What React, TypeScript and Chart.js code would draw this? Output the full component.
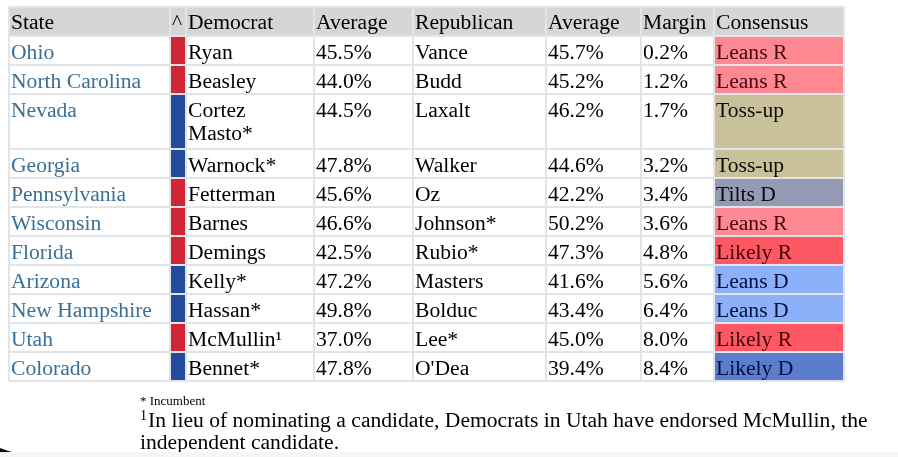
import React, { useEffect, useRef } from 'react';
import { Chart, registerables } from 'chart.js';

Chart.register(...registerables);

// ---------- data ----------
const headers = ['State', '^', 'Democrat', 'Average', 'Republican', 'Average', 'Margin', 'Consensus'];
const states = ['Ohio', 'North Carolina', 'Nevada', 'Georgia', 'Pennsylvania', 'Wisconsin', 'Florida', 'Arizona', 'New Hampshire', 'Utah', 'Colorado'];
const seatHolders = ['R', 'R', 'D', 'D', 'R', 'R', 'R', 'D', 'D', 'R', 'D'];
const democrats = ['Ryan', 'Beasley', 'Cortez Masto*', 'Warnock*', 'Fetterman', 'Barnes', 'Demings', 'Kelly*', 'Hassan*', 'McMullin\u00b9', 'Bennet*'];
const demAverages = [45.5, 44.0, 44.5, 47.8, 45.6, 46.6, 42.5, 47.2, 49.8, 37.0, 47.8];
const republicans = ['Vance', 'Budd', 'Laxalt', 'Walker', 'Oz', 'Johnson*', 'Rubio*', 'Masters', 'Bolduc', 'Lee*', "O'Dea"];
const repAverages = [45.7, 45.2, 46.2, 44.6, 42.2, 50.2, 47.3, 41.6, 43.4, 45.0, 39.4];
const margins = [0.2, 1.2, 1.7, 3.2, 3.4, 3.6, 4.8, 5.6, 6.4, 8.0, 8.4];
const consensus = ['Leans R', 'Leans R', 'Toss-up', 'Toss-up', 'Tilts D', 'Leans R', 'Likely R', 'Leans D', 'Leans D', 'Likely R', 'Likely D'];
const footnoteIncumbent = '* Incumbent';
const footnoteMark = '1';
const footnoteUtah = 'In lieu of nominating a candidate, Democrats in Utah have endorsed McMullin, the independent candidate.';

// ---------- styles / layout ----------
const COL_WIDTHS = [161, 16, 128, 99, 133, 95, 73, 130];
const HEADER_H = 29;
const ROW_H = 29;
const EXTRA_LINE_H = 26;
const FONT = '21.6px "Liberation Serif", "Times New Roman", serif';
const PARTY_COLORS: Record<string, string> = { R: '#cf2634', D: '#244a9b' };
const CONSENSUS_STYLE: Record<string, { fill: string; text: string }> = {
  'Leans R': { fill: '#ff8993', text: '#4a0610' },
  'Likely R': { fill: '#ff5865', text: '#420006' },
  'Toss-up': { fill: '#c9c09c', text: '#100d04' },
  'Tilts D': { fill: '#959bb4', text: '#080a16' },
  'Leans D': { fill: '#8db0fb', text: '#04103e' },
  'Likely D': { fill: '#5a7ecd', text: '#040e40' },
};

function wrap(ctx: CanvasRenderingContext2D, text: string, maxW: number): string[] {
  const words = text.split(' ');
  const lines: string[] = [];
  let cur = '';
  for (const w of words) {
    const t = cur ? cur + ' ' + w : w;
    if (cur && ctx.measureText(t).width > maxW) {
      lines.push(cur);
      cur = w;
    } else cur = t;
  }
  if (cur) lines.push(cur);
  return lines;
}

export default function App() {
  const ref = useRef<HTMLCanvasElement | null>(null);

  useEffect(() => {
    const canvas = ref.current!;
    const mctx = canvas.getContext('2d')!;
    mctx.font = FONT;

    const colEdges: number[] = [0];
    COL_WIDTHS.forEach((w) => colEdges.push(colEdges[colEdges.length - 1] + w));
    const tableW = colEdges[colEdges.length - 1];

    const cells = states.map((s, i) => [
      [s],
      [],
      wrap(mctx, democrats[i], COL_WIDTHS[2] - 8),
      [demAverages[i].toFixed(1) + '%'],
      wrap(mctx, republicans[i], COL_WIDTHS[4] - 8),
      [repAverages[i].toFixed(1) + '%'],
      [margins[i].toFixed(1) + '%'],
      [consensus[i]],
    ]);
    const rowTops: number[] = [HEADER_H];
    const rowHeights = cells.map((c) => {
      const n = Math.max(...c.map((x) => x.length), 1);
      return ROW_H + (n - 1) * EXTRA_LINE_H;
    });
    rowHeights.forEach((h) => rowTops.push(rowTops[rowTops.length - 1] + h));
    const totalH = rowTops[rowTops.length - 1];

    const tablePlugin = {
      id: 'tablePlugin',
      afterDraw(chart: any) {
        const ctx: CanvasRenderingContext2D = chart.ctx;
        const xs = chart.scales.x;
        const ys = chart.scales.y;
        const X = (v: number) => xs.getPixelForValue(v);
        const Y = (v: number) => ys.getPixelForValue(v);
        ctx.save();
        ctx.fillStyle = '#ffffff';
        ctx.fillRect(0, 0, chart.width, chart.height);

        // header background
        ctx.fillStyle = '#d6d6d6';
        ctx.fillRect(X(0), Y(0), X(tableW) - X(0), Y(HEADER_H) - Y(0));

        // coloured cells
        states.forEach((_, i) => {
          const t = Y(rowTops[i]);
          const b = Y(rowTops[i + 1]);
          ctx.fillStyle = PARTY_COLORS[seatHolders[i]];
          ctx.fillRect(X(colEdges[1]), t, X(colEdges[2]) - X(colEdges[1]), b - t);
          ctx.fillStyle = CONSENSUS_STYLE[consensus[i]].fill;
          ctx.fillRect(X(colEdges[7]), t, X(colEdges[8]) - X(colEdges[7]), b - t);
        });

        // grid
        ctx.strokeStyle = '#e2e4e8';
        ctx.lineWidth = 2;
        ctx.beginPath();
        [0, ...rowTops].forEach((r) => {
          ctx.moveTo(X(0), Y(r));
          ctx.lineTo(X(tableW), Y(r));
        });
        colEdges.forEach((c) => {
          ctx.moveTo(X(c), Y(0));
          ctx.lineTo(X(c), Y(totalH));
        });
        ctx.stroke();

        // header text
        ctx.font = FONT;
        ctx.textBaseline = 'alphabetic';
        ctx.textAlign = 'left';
        ctx.fillStyle = '#000000';
        headers.forEach((h, c) => {
          ctx.fillText(h, X(colEdges[c]) + 2, Y(0) + 22);
        });

        // body text
        cells.forEach((row, i) => {
          const top = Y(rowTops[i]);
          row.forEach((lines, c) => {
            if (c === 0) ctx.fillStyle = '#3a7097';
            else if (c === 7) ctx.fillStyle = CONSENSUS_STYLE[consensus[i]].text;
            else ctx.fillStyle = '#000000';
            lines.forEach((ln, k) => {
              ctx.fillText(ln, X(colEdges[c]) + 2, top + 23 + k * 23);
            });
          });
        });

        // footnotes
        const fx = 140;
        const base = Y(totalH);
        ctx.fillStyle = '#000000';
        ctx.font = '13px "Liberation Serif", serif';
        ctx.fillText(footnoteIncumbent, fx, base + 24);
        ctx.font = '14px "Liberation Serif", serif';
        ctx.fillText(footnoteMark, fx, base + 39);
        const mw = ctx.measureText(footnoteMark).width;
        ctx.font = FONT;
        const fl = wrap(ctx, footnoteUtah, 890 - fx - mw);
        fl.forEach((ln, k) => {
          ctx.fillText(ln, k === 0 ? fx + mw + 1 : fx, base + 46 + k * 22);
        });

        // bottom strip
        ctx.fillStyle = '#f6f6f6';
        ctx.fillRect(0, 452, chart.width, chart.height - 452);
        ctx.fillStyle = '#111111';
        ctx.beginPath();
        ctx.moveTo(0, 448);
        ctx.quadraticCurveTo(5, 450, 12, 452);
        ctx.lineTo(0, 452);
        ctx.closePath();
        ctx.fill();
        ctx.restore();
      },
    };

    const chart = new Chart(canvas, {
      type: 'scatter',
      data: { datasets: [] },
      options: {
        animation: false,
        responsive: false,
        devicePixelRatio: 1,
        layout: { padding: { left: 9, top: 7, right: 898 - 9 - 835, bottom: 457 - 7 - totalH } },
        plugins: { legend: { display: false }, tooltip: { enabled: false } },
        scales: {
          x: { type: 'linear', display: false, min: 0, max: tableW },
          y: { type: 'linear', display: false, min: 0, max: totalH, reverse: true },
        },
      },
      plugins: [tablePlugin],
    });
    return () => chart.destroy();
  }, []);

  return (
    <div style={{ position: 'fixed', left: 0, top: 0, width: 898, height: 457, background: '#fff' }}>
      <canvas ref={ref} width={898} height={457} style={{ display: 'block', width: 898, height: 457 }} />
    </div>
  );
}
